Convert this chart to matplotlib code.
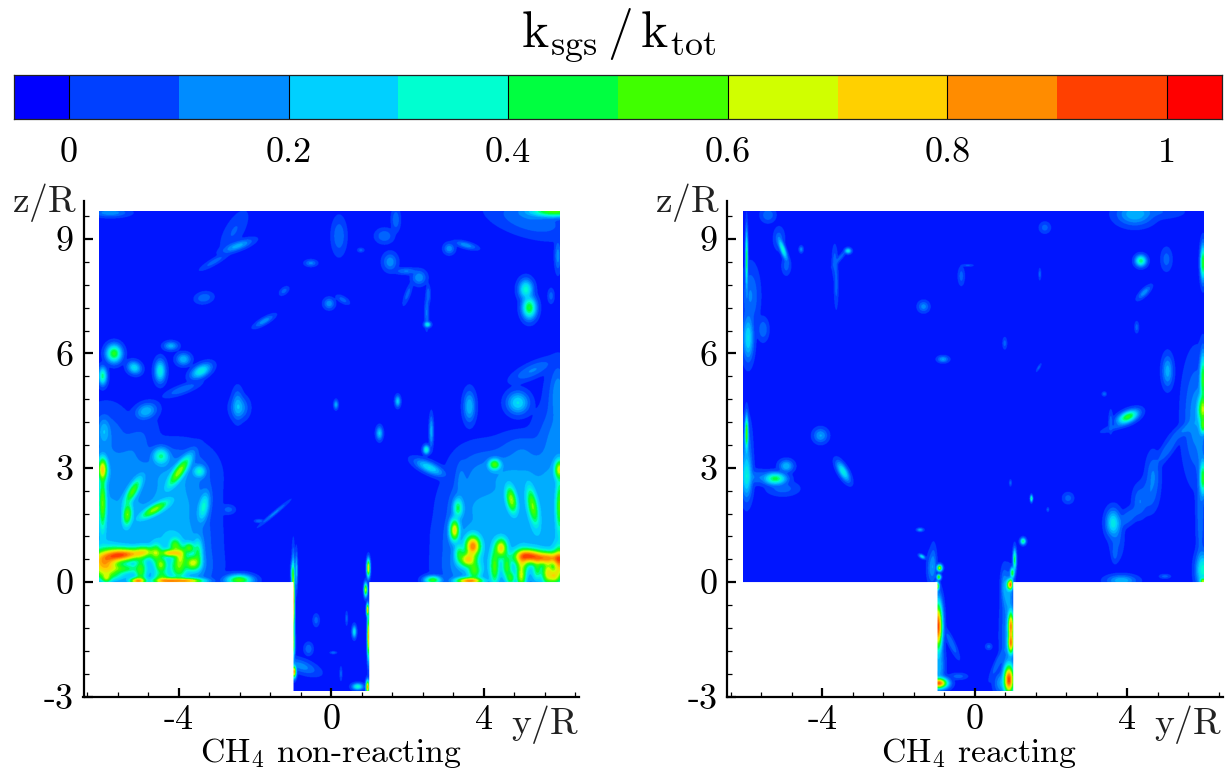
import numpy as np
import matplotlib
matplotlib.use("Agg")
import matplotlib.pyplot as plt
from matplotlib.colors import LinearSegmentedColormap, ListedColormap, BoundaryNorm

plt.rcParams['font.family'] = ['cmr10', 'DejaVu Serif']
plt.rcParams['mathtext.fontset'] = 'cm'
plt.rcParams['axes.unicode_minus'] = False
plt.rcParams['axes.formatter.use_mathtext'] = True

W, H = 1231, 771

# colour bar
bar_edges = [-0.05, 0, 0.1, 0.2, 0.3, 0.4, 0.5, 0.6, 0.7, 0.8, 0.9, 1.0, 1.05]
bar_colors = ['#0000ff', '#0040ff', '#008cff', '#00d0ff', '#00ffd0', '#00ff40',
              '#40ff00', '#d0ff00', '#ffd000', '#ff8c00', '#ff4000', '#ff0000']
bar_ticks = [0, 0.2, 0.4, 0.6, 0.8, 1]
bar_tick_labels = ['0', '0.2', '0.4', '0.6', '0.8', '1']
x_ticks = [-4, 0, 4]
x_tick_labels = ['-4', '0', '4']
z_ticks = [-3, 0, 3, 6, 9]
z_tick_labels = ['-3', '0', '3', '6', '9']

# hot spots: y/R, z/R, ksgs/ktot level, extent along, extent across, tilt in degrees
nonreacting = [
    # broad lifted regions
    (-6.,.4,.2,.26,.26,0),(-5.2,.4,.2,.26,.26,0),(-4.4,.4,.2,.26,.26,0),(-3.85,.4,.2,.26,.26,0),
    (-6.,1.2,.18,.26,.26,0),(-5.2,1.2,.16,.26,.26,0),(-4.4,1.2,.18,.26,.26,0),(-3.85,1.2,.16,.26,.26,0),
    (-6.,2.,.16,.26,.26,0),(-5.2,2.,.15,.26,.26,0),(-4.4,2.,.15,.26,.26,0),(-3.85,2.,.15,.26,.26,0),
    (-6.,2.8,.14,.26,.26,0),(-5.2,2.8,.13,.26,.26,0),(-4.4,2.8,.15,.26,.26,0),(-3.8,2.8,.14,.26,.26,0),
    (-5.9,3.7,.12,.22,.3,0),(-5.2,3.5,.1,.15,.3,-30),
    (3.6,.4,.18,.26,.26,0),(4.4,.4,.2,.26,.26,0),(5.2,.4,.2,.26,.26,0),(6.,.4,.2,.26,.26,0),
    (3.6,1.2,.16,.26,.26,0),(4.4,1.2,.16,.26,.26,0),(5.2,1.2,.18,.26,.26,0),(6.,1.2,.18,.26,.26,0),
    (3.7,2.,.15,.26,.26,0),(4.4,2.,.15,.26,.26,0),(5.2,2.,.17,.26,.26,0),(6.,2.,.18,.26,.26,0),
    (3.9,2.8,.13,.26,.26,0),(4.6,2.8,.15,.26,.26,0),(5.2,2.8,.14,.26,.26,0),(6.,2.8,.17,.26,.26,0),
    (5.0,3.5,.1,.22,.15,0),(5.9,3.7,.14,.2,.3,0),(5.95,4.7,.12,.12,.35,0),
    # lower left
    (-5.96,.5,.78,.16,.14,0),(-5.35,.72,.72,.27,.065,5),(-5.6,.72,.6,.16,.08,0),(-5.85,.2,.35,.16,.06,0),(-5.0,.3,.45,.06,.16,0),
    (-5.08,.03,.8,.08,.035,0),(-4.21,.76,.7,.04,.11,90),(-4.47,.45,.55,.06,.08,0),(-4.1,.95,.5,.06,.08,0),(-3.73,.89,.5,.06,.06,0),
    (-3.64,.5,.62,.08,.08,0),(-4.0,.4,.5,.08,.12,0),(-4.25,.03,.8,.16,.035,0),(-3.77,.03,.75,.16,.03,0),(-2.42,.05,.55,.12,.05,0),
    (-5.5,.35,.4,.2,.05,0),(-4.6,.75,.5,.06,.1,0),(-4.45,.1,.45,.08,.08,0),(-3.95,.7,.55,.06,.1,0),(-3.5,.75,.4,.05,.15,0),(-4.9,.8,.45,.1,.06,0),(-5.9,.1,.5,.05,.05,0),
    # middle left
    (-3.99,2.9,.6,.18,.055,55),(-4.47,3.3,.38,.08,.08,0),(-3.46,2.9,.33,.06,.06,0),(-5.21,2.38,.52,.15,.05,60),
    (-5.35,1.77,.55,.12,.05,85),(-4.64,1.9,.58,.16,.05,30),(-3.35,1.97,.33,.15,.055,80),(-6.,2.95,.72,.05,.12,0),
    (-6.,2.07,.55,.04,.28,0),(-4.86,4.48,.22,.1,.07,20),(-5.96,3.95,.2,.06,.13,0),(-2.41,4.57,.18,.08,.1,0),
    # right side
    (4.28,3.08,.55,.06,.055,0),(4.72,2.16,.6,.14,.055,100),(5.28,1.99,.55,.2,.055,100),(3.32,1.94,.42,.05,.1,0),
    (3.23,1.36,.7,.05,.11,0),(3.71,.94,.85,.08,.11,0),(3.58,.59,.7,.09,.08,0),(4.45,.89,.7,.065,.1,0),(4.28,.41,.5,.05,.2,0),
    (5.55,.63,.82,.28,.07,0),(5.15,.72,.7,.13,.065,0),(5.98,.5,.75,.065,.16,0),(4.98,.15,.6,.05,.13,0),(5.68,.24,.65,.065,.13,0),
    (3.62,.03,.85,.13,.035,0),(2.66,.05,.5,.08,.04,0),(5.98,2.95,.65,.05,.1,0),(5.98,2.,.5,.04,.28,0),(4.89,4.7,.28,.1,.1,0),
    (3.75,.3,.5,.07,.1,0),(3.35,.75,.4,.05,.1,0),(4.6,.4,.45,.05,.12,0),(5.0,.55,.55,.07,.12,0),(5.4,.35,.4,.05,.12,0),(5.85,.15,.6,.06,.08,0),(4.7,.1,.45,.05,.08,0),
    (3.62,4.6,.22,.055,.14,0),(2.57,3.,.28,.14,.05,-25),(2.49,3.47,.35,.03,.04,0),(2.62,3.95,.2,.02,.14,0),(1.26,3.9,.24,.03,.06,0),
    (.12,4.65,.2,.02,.04,0),(-1.5,1.8,.14,.16,.016,40),(-2.7,1.9,.1,.06,.04,0),(-1.9,1.6,.12,.04,.016,0),(3.4,2.6,.12,.05,.2,0),
    # pipe
    (-1.,-.5,.85,.014,.32,0),(-1.,-1.6,.55,.016,.14,0),(-.98,-2.35,.85,.02,.055,0),(-.8,-2.2,.15,.16,.06,-20),(-1.02,.24,.35,.016,.1,0),
    (-.92,.3,.25,.012,.16,0),(.97,.37,.75,.016,.08,0),(.9,-.2,.65,.016,.06,0),(.95,-.73,.8,.012,.055,0),(.97,-1.43,.8,.012,.2,0),
    (.95,-2.75,.85,.016,.06,0),(.6,-1.3,.3,.02,.055,0),(.69,-2.74,.35,.05,.03,0),(.4,-.95,.1,.012,.06,0),(-.4,-1.0,.1,.03,.055,0),
    (-.6,-1.75,.12,.04,.055,0),(.05,-1.85,.12,.03,.012,0),(.25,-2.4,.1,.012,.06,0),
    # upper left
    (-5.7,5.99,.5,.07,.08,0),(-6.,5.4,.4,.04,.08,0),(-5.17,5.62,.28,.065,.055,-30),(-4.49,5.53,.32,.05,.1,0),(-4.21,6.19,.2,.065,.04,0),
    (-3.88,5.84,.22,.065,.055,0),(-3.42,5.53,.32,.1,.055,30),(-3.9,5.05,.12,.16,.04,20),(-2.46,4.65,.16,.05,.14,0),(-2.46,8.81,.2,.14,.04,20),
    (-3.07,8.4,.1,.14,.03,30),(-2.55,9.2,.08,.08,.2,-30),(-3.34,7.45,.12,.08,.05,10),(.2,9.07,.12,.065,.16,0),(-.54,8.36,.14,.055,.03,0),
    (-.06,7.3,.16,.05,.05,0),(.3,7.4,.1,.065,.03,-30),(-1.76,6.84,.16,.1,.03,30),(-1.24,7.63,.1,.05,.03,40),(-5.8,9.68,.16,.16,.04,0),
    # upper right
    (5.19,7.19,.48,.065,.1,0),(5.1,7.67,.35,.065,.09,0),(5.85,9.72,.55,.24,.055,0),(5.2,9.5,.12,.36,.14,-15),(1.39,9.07,.12,.08,.065,0),
    (1.69,9.5,.12,.04,.1,0),(3.53,8.83,.16,.1,.03,-15),(3.09,8.74,.16,.05,.05,0),(1.54,8.39,.16,.065,.08,0),(1.96,8.15,.13,.1,.03,0),
    (2.3,7.98,.17,.065,.065,0),(2.0,7.55,.1,.025,.1,-20),(2.54,7.54,.12,.02,.08,0),(2.5,7.06,.13,.02,.14,0),(2.52,6.75,.32,.03,.025,0),
    (5.28,5.55,.13,.2,.065,25),(5.94,4.96,.13,.065,.24,0),(1.74,4.74,.25,.025,.05,0),(5.76,7.5,.1,.03,.065,0),(5.94,8.55,.15,.03,.14,0),(.77,8.7,.1,.03,.02,0),
]

reacting = [
    (-5.05,8.72,.35,.1,.025,-70),(-5.15,9.0,.1,.05,.1,0),(-4.96,8.29,.1,.04,.08,0),(-4.57,8.72,.15,.02,.03,0),(-3.34,8.68,.3,.03,.025,0),
    (-3.55,8.5,.1,.1,.02,50),(-3.69,8.4,.1,.025,.14,0),(-3.65,7.8,.1,.02,.2,0),(-1.36,7.22,.15,.05,.05,0),(-.85,5.84,.18,.05,.03,0),
    (-4.06,3.84,.18,.065,.065,0),(-5.25,2.71,.45,.1,.055,0),(-4.96,3.04,.22,.065,.055,0),(-5.05,2.45,.1,.14,.065,0),(-3.47,2.9,.32,.1,.04,-60),
    (-5.75,2.75,.12,.14,.065,0),(-6.,2.77,.3,.05,.2,0),(-6.,3.9,.55,.016,.16,0),(-6.,8.46,.45,.012,.26,0),(-5.9,7.5,.13,.08,.26,0),(-5.96,6.4,.28,.05,.2,0),
    (-5.57,6.62,.12,.05,.1,0),(-5.44,9.62,.12,.065,.065,0),(-6.0,3.3,.15,.05,.32,0),
    (4.18,9.64,.22,.16,.1,0),(4.7,9.7,.08,.26,.065,0),(4.34,8.42,.42,.05,.05,0),(5.01,8.46,.1,.05,.1,0),(4.43,7.59,.16,.08,.03,45),(4.23,6.68,.1,.02,.05,0),
    (5.04,5.53,.2,.05,.14,0),(4.0,4.33,.5,.1,.05,25),(3.55,4.2,.1,.02,.1,0),(3.75,4.1,.09,.16,.03,20),(5.97,8.37,.5,.025,.16,0),(5.97,5.31,.5,.03,.24,0),(5.97,4.52,.62,.05,.14,0),
    (5.97,4.1,.5,.03,.08,0),(5.97,2.73,.5,.03,.16,0),(5.97,.32,.35,.065,.16,0),(5.97,.02,.6,.03,.03,0),(5.8,4.3,.16,.12,.5,0),
    (5.9,3.3,.1,.04,.65,0),(5.9,1.7,.1,.04,.5,0),(3.61,1.55,.3,.065,.12,0),(3.7,1.2,.1,.065,.2,0),(4.31,2.12,.12,.065,.14,0),(4.0,1.7,.11,.16,.065,40),
    (4.66,2.77,.13,.065,.2,0),(4.55,2.3,.11,.08,.16,0),(5.05,3.5,.11,.2,.05,55),(5.5,4.0,.12,.16,.05,35),(3.66,.76,.1,.03,.08,0),
    (3.83,.04,.22,.13,.05,0),(4.97,.15,.1,.05,.02,0),(1.25,1.07,.42,.025,.03,0),(1.03,.58,.45,.016,.1,0),(.93,-.05,.6,.016,.05,0),(.97,.24,.5,.02,.05,0),
    (1.47,2.19,.4,.012,.03,0),(2.43,2.2,.1,.05,.05,0),(-.37,8.02,.1,.03,.08,0),(-.2,8.3,.09,.05,.012,0),(1.69,8.07,.1,.012,.05,0),(1.82,9.29,.1,.05,.05,0),
    (.77,6.26,.1,.02,.05,0),(1.66,5.62,.1,.04,.012,60),(3.38,4.93,.12,.02,.02,0),(.92,2.6,.1,.012,.03,0),(1.9,1.9,.1,.012,.02,0),
    # pipe and shear layers
    (-.98,-1.16,.95,.04,.22,0),(-.94,.37,.65,.025,.03,0),(-.96,.13,.55,.02,.025,0),(-1.,-.11,.6,.02,.04,0),(-1.1,.5,.12,.03,.16,0),
    (-.96,-2.65,.9,.08,.05,0),(-.95,-2.2,.2,.05,.2,0),(-.63,-1.6,.12,.03,.14,25),(-.45,-2.47,.1,.08,.03,0),(.68,-2.65,.18,.065,.1,0),(.6,-2.1,.12,.03,.16,-25),
    (.9,-.07,.75,.03,.05,0),(.85,-.3,.2,.05,.2,0),(.93,-1.16,.85,.03,.14,0),(.93,-1.6,.85,.03,.1,0),(.85,-1.4,.15,.065,.4,0),(.88,-2.56,.95,.05,.14,0),
    (.35,-1.69,.1,.03,.03,0),(-1.4,.67,.3,.03,.016,-30),(-1.45,1.37,.2,.03,.016,0),(-1.15,.37,.15,.04,.14,0),(.75,-.1,.15,.03,.16,0),
]

y_min, y_max, z_min, z_max = -6.09, 5.99, -2.85, 9.72
pipe_radius = 1.0
spread = 2.0
blend = 2.0

fig = plt.figure(figsize=(W/100, H/100), dpi=100)

def rect(l, t, r, b):
    return [l/W, 1-b/H, (r-l)/W, (b-t)/H]

# smooth version of the colour scale for the field, in narrow bands
centres = [(bar_edges[i]+bar_edges[i+1])/2 for i in range(len(bar_colors))]
lo, hi = centres[0], centres[-1]
field_cmap = LinearSegmentedColormap.from_list(
    'field', [((c-lo)/(hi-lo), col) for c, col in zip(centres, bar_colors)], N=512)
field_levels = np.arange(-0.025, 1.0751, 0.05)
band_values = (field_levels[:-1]+field_levels[1:])/2
band_cmap = ListedColormap(field_cmap((band_values-lo)/(hi-lo)))
band_cmap.set_bad((1, 1, 1, 0))
band_norm = BoundaryNorm(field_levels, band_cmap.N)

yy, zz = np.meshgrid(np.linspace(y_min, y_max, 1210), np.linspace(z_min, z_max, 1258))

def field(spots):
    out = np.zeros_like(yy)
    for y0, z0, amp, s1, s2, tilt in spots:
        t = np.deg2rad(tilt)
        u = (yy-y0)*np.cos(t)+(zz-z0)*np.sin(t)
        v = -(yy-y0)*np.sin(t)+(zz-z0)*np.cos(t)
        out += (amp*np.exp(-0.5*((u/(s1*spread))**2+(v/(s2*spread))**2)))**blend
    out = out**(1/blend)
    return np.ma.masked_where((np.abs(yy) > pipe_radius) & (zz < 0), np.clip(out, 0, 1.02))

def panel(left, spots, caption, cap_x):
    ax = fig.add_axes(rect(left, 201, left+495.5, 696.5))
    ax.imshow(field(spots), origin='lower', extent=(y_min, y_max, z_min, z_max), aspect='auto',
              cmap=band_cmap, norm=band_norm, interpolation='hanning', interpolation_stage='rgba')
    ax.set_xlim(-6.5, 6.5)
    ax.set_ylim(-3, 10)
    for s in ('top', 'right'):
        ax.spines[s].set_visible(False)
    for s in ('left', 'bottom'):
        ax.spines[s].set_linewidth(1.6)
    ax.set_xticks(x_ticks, x_tick_labels)
    ax.set_yticks(z_ticks, z_tick_labels)
    ax.set_xticks(np.arange(-6.4, 6.41, 0.8), minor=True)
    ax.set_yticks(np.arange(-3, 10.01, 0.6), minor=True)
    ax.tick_params(which='major', direction='in', length=6.5, width=1.6, labelsize=26, pad=6)
    ax.tick_params(which='minor', direction='in', length=3.5, width=0.9)
    ax.tick_params(axis='y', which='major', pad=7)
    fig.text((left-39.5)/W, 1-202/H, r'$\mathrm{z/R}$', fontsize=27, ha='center', va='center', color='#222222')
    fig.text((left+461.5)/W, 1-724/H, r'$\mathrm{y/R}$', fontsize=27, ha='center', va='center', color='#222222')
    fig.text(cap_x/W, 1-753/H, caption, fontsize=24.3, ha='center', va='center')

panel(83.5, nonreacting, r'CH$_4$ non-reacting', 330.5)
panel(727, reacting, r'CH$_4$ reacting', 979)

# colour bar
cax = fig.add_axes(rect(14, 75, 1222, 119))
cax.pcolormesh(bar_edges, [0, 1], np.arange(len(bar_colors)).reshape(1, -1),
               cmap=ListedColormap(bar_colors),
               norm=BoundaryNorm(np.arange(len(bar_colors)+1)-0.5, len(bar_colors)))
cax.vlines(bar_ticks, 0, 1, color='black', lw=0.8)
cax.set_xlim(bar_edges[0], bar_edges[-1])
cax.set_ylim(0, 1)
cax.set_yticks([])
cax.set_xticks(bar_ticks, bar_tick_labels)
cax.tick_params(axis='x', length=0, labelsize=26, pad=13)
for s in cax.spines.values():
    s.set_linewidth(0.9)
    s.set_color('#222222')

fig.text(619/W, 1-36/H, r'$\mathrm{k_{sgs}\,/\,k_{tot}}$', fontsize=37, ha='center', va='center')

fig.savefig('out.png', dpi=100)
